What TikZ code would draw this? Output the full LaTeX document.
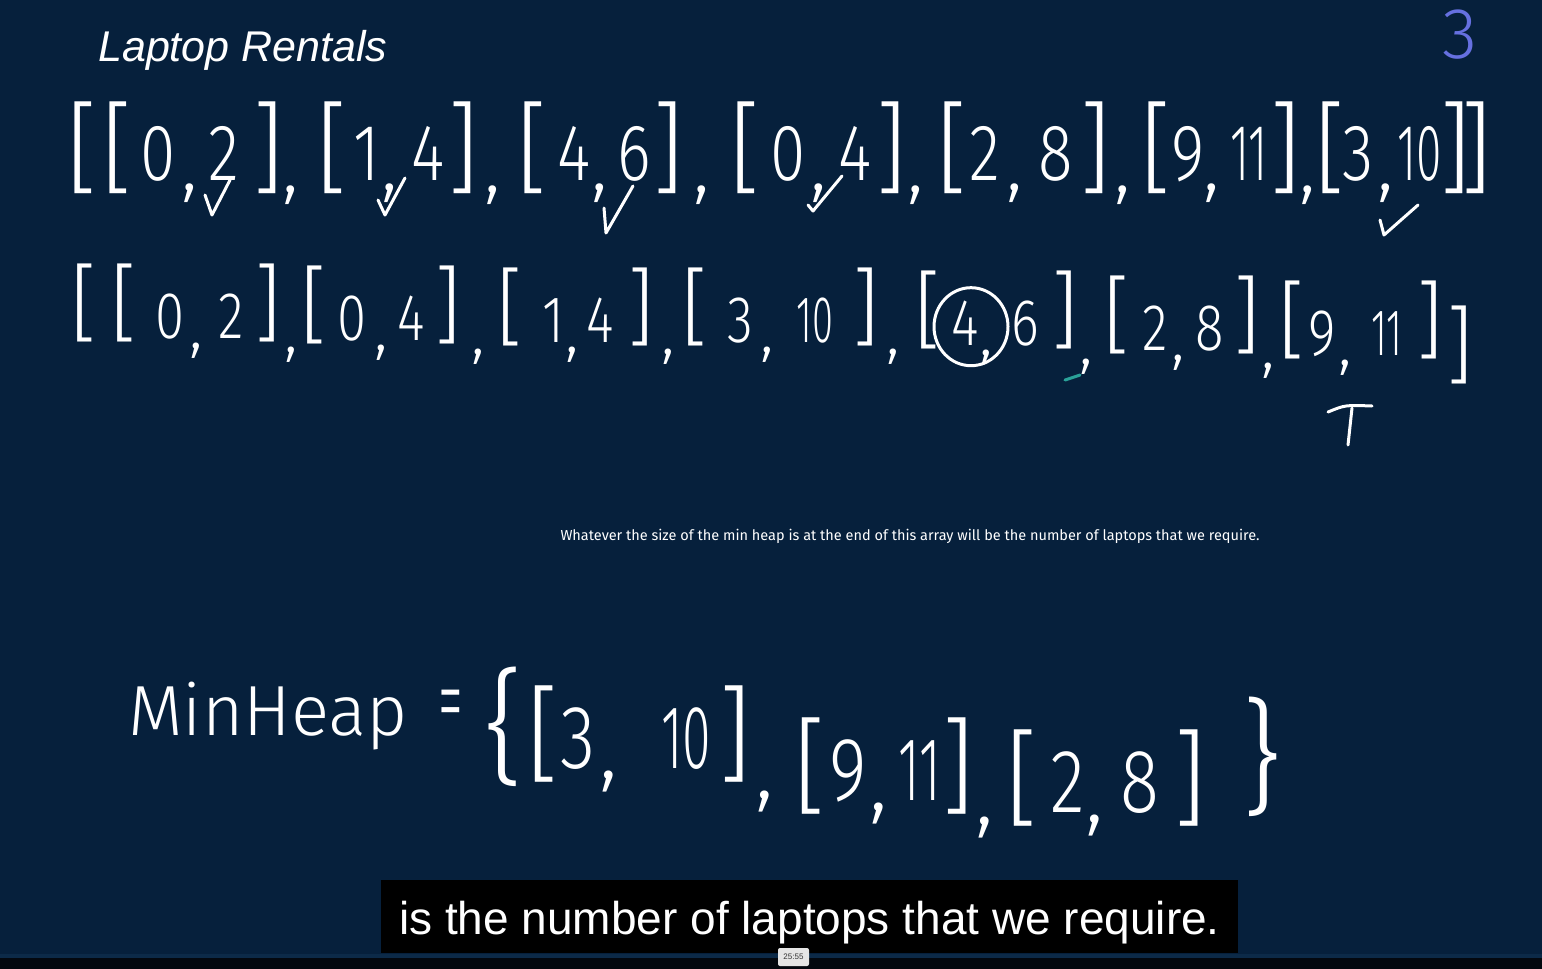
\documentclass[tikz,border=0pt]{standalone}
\usepackage{fontspec}
\setmainfont{Liberation Sans}
\newfontfamily\hwfont{Fira Sans Light}
\newfontfamily\subfont{Fira Sans}
\definecolor{bg}{HTML}{06203C}
\definecolor{pagecol}{HTML}{6670E0}
\definecolor{tealmark}{HTML}{2AA198}
\definecolor{barcol}{HTML}{03080F}
\definecolor{linecol}{HTML}{0C2A48}
\newcommand\nw[1]{\scalebox{0.72}[1]{#1}}
\newcommand\dg[1]{\scalebox{0.8}[1]{#1}}
\newcommand\hwpair[9]{%
  \node[hwbr] (#1l) at (#3,#2) {[};
  \node[hwd] (#1a) at (#4,#2) {\dg{#8}};
  \node[hwd] (#1c) at (#5,{#2+10}) {,};
  \node[hwd] (#1b) at (#6,#2) {\dg{#9}};
  \node[hwbr] (#1r) at (#7,#2) {]};}
\begin{document}
\begin{tikzpicture}[x=1pt,y=-1pt,
  stroke/.style={white, line width=3pt, line cap=round, line join=round},
  hwd/.style={text=white, font=\hwfont\fontsize{80}{80}\selectfont, anchor=base, inner sep=0pt},
  hwbr/.style={text=white, font=\hwfont\fontsize{100}{100}\selectfont, anchor=base, inner sep=0pt, yshift=-2pt}]
\fill[bg] (0,0) rectangle (1542,969);
\useasboundingbox (0,0) rectangle (1542,969);

% title and page number
\node[anchor=base west, inner sep=0pt, text=white, font=\itshape\fontsize{43}{43}\selectfont] (title) at (98,61) {Laptop Rentals};
\node[anchor=base, inner sep=0pt, text=pagecol, font=\hwfont\fontsize{72}{72}\selectfont] (pg) at (1460,58) {3};

% row 1
\node[hwbr] (r1open) at (82,180) {[};
\hwpair{ra}{180}{117}{158}{190}{224}{268}{0}{2}
\node[hwd] (ca1) at (291,192) {,};
\hwpair{rb}{180}{332}{367}{390}{428}{463}{1}{4}
\node[hwd] (ca2) at (493,192) {,};
\hwpair{rc}{180}{532}{574}{600}{634}{668}{4}{6}
\node[hwd] (ca3) at (702,192) {,};
\hwpair{rd}{180}{745}{788}{819}{855}{891}{0}{4}
\node[hwd] (ca4) at (916,192) {,};
\hwpair{re}{180}{952}{985}{1015}{1056}{1095}{2}{8}
\node[hwd] (ca5) at (1123,192) {,};
\hwpair{rf}{180}{1156}{1188}{1212}{1249}{1285}{9}{\nw{11}}
\node[hwd] (ca6) at (1308,192) {,};
\hwpair{rg}{180}{1330}{1358}{1386}{1420}{1455}{3}{\nw{10}}
\node[hwbr] (r1close) at (1476,180) {]};

% checkmarks row 1
\draw[stroke] (205,195) -- (212,215) -- (230,180);
\draw[stroke] (378,200) -- (385,215) -- (405,178);
\draw[stroke] (604,208) -- (606,233) -- (633,186);
\draw[stroke] (808,205) -- (813,211) -- (842,176);
\draw[stroke] (1380,220) -- (1384,235) -- (1418,205);

% row 2
\begin{scope}[hwd/.style={text=white, font=\hwfont\fontsize{66}{66}\selectfont, anchor=base, inner sep=0pt},
  hwbr/.style={text=white, font=\hwfont\fontsize{85}{85}\selectfont, anchor=base, inner sep=0pt, yshift=6pt}]
\node[hwbr] (r2open) at (84,338) {[};
\hwpair{sa}{338}{124}{170}{196}{231}{268}{0}{2}
\node[hwd] (cb1) at (291,352) {,};
\hwpair{sb}{340}{314}{352}{381}{411}{448}{0}{4}
\node[hwd] (cb2) at (478,354) {,};
\hwpair{sc}{342}{510}{553}{572}{600}{641}{1}{4}
\node[hwd] (cb3) at (668,354) {,};
\hwpair{sd}{342}{695}{740}{767}{815}{866}{3}{\nw{10}}
\node[hwd] (cb4) at (893,354) {,};
\hwpair{se}{345}{928}{965}{986}{1025}{1065}{4}{6}
\node[hwd] (cb5) at (1086,364) {,};
\hwpair{sf}{350}{1117}{1155}{1178}{1210}{1247}{2}{8}
\node[hwd] (cb6) at (1268,368) {,};
\hwpair{sg}{355}{1292}{1322}{1345}{1387}{1430}{9}{\nw{11}}
\node[hwbr] (r2close) at (1460,380) {]};
\end{scope}
\draw[stroke] ([xshift=6pt,yshift=-4pt]sea.center) circle[x radius=37, y radius=39];
\draw[tealmark, line width=3pt, line cap=round] (1065,380) -- (1080,375);
\draw[stroke] (1328,412) .. controls (1345,405) .. (1372,406);
\draw[stroke] (1352,408) -- (1348,445);

% subtitle
\node[anchor=base, inner sep=0pt, text=white, font=\subfont\fontsize{14.5}{14.5}\selectfont] (sub) at (910,540)
  {Whatever the size of the min heap is at the end of this array will be the number of laptops that we require.};

% min heap line
\node[anchor=base west, inner sep=0pt, text=white, font=\hwfont\fontsize{71}{71}\selectfont] (mh) at (128,735) {MinHeap};
\node[inner sep=0pt, text=white, font=\hwfont\fontsize{100}{100}\selectfont] (eq) at (451,712) {\scalebox{0.5}[1]{=}};
\node[inner sep=0pt, text=white, font=\hwfont\fontsize{125}{125}\selectfont] (lbrace) at (504,727) {\{};
\begin{scope}[hwd/.style={text=white, font=\hwfont\fontsize{90}{90}\selectfont, anchor=base, inner sep=0pt},
  hwbr/.style={text=white, font=\hwfont\fontsize{105}{105}\selectfont, anchor=base, inner sep=0pt, yshift=-2pt}]
\hwpair{ma}{768}{543}{578}{609}{686}{735}{3}{\nw{10}}
\node[hwd] (cm1) at (765,798) {,};
\hwpair{mb}{800}{810}{848}{879}{920}{958}{9}{\nw{11}}
\node[hwd] (cm2) at (985,824) {,};
\hwpair{mc}{812}{1022}{1068}{1095}{1140}{1190}{2}{8}
\end{scope}
\node[inner sep=0pt, text=white, font=\hwfont\fontsize{125}{125}\selectfont] (rbrace) at (1262,757) {\}};

% caption
\node[fill=black, minimum width=857pt, minimum height=73pt, inner sep=0pt] (capbox) at (809.5,916.5) {};
\node[anchor=base, inner sep=0pt, text=white, font=\fontsize{46}{46}\selectfont] (cap) at (809.5,934) {is the number of laptops that we require.};

% player bar
\fill[linecol] (0,954) rectangle (1542,958);
\fill[barcol] (0,958) rectangle (1542,969);
\node[fill=black!10, rounded corners=2pt, minimum width=31pt, minimum height=18pt, inner sep=0pt,
  text=black!80, font=\fontsize{8}{8}\selectfont] (ts) at (793.5,957) {25:55};
\end{tikzpicture}
\end{document}
